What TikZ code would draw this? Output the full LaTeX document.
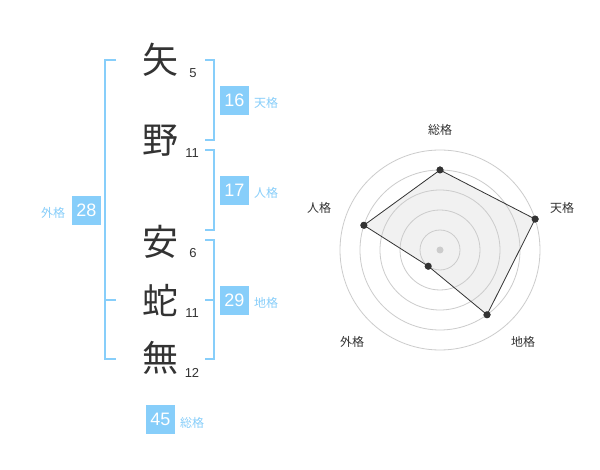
\documentclass[tikz,border=0pt]{standalone}
\usepackage{fontspec}
\setmainfont{Liberation Sans}
\newfontfamily\cjk{Noto Sans CJK JP}
\definecolor{sky}{RGB}{135,206,250}
\definecolor{ink}{RGB}{51,51,51}
\definecolor{ring}{RGB}{204,204,204}
\definecolor{area}{RGB}{238,238,238}
\begin{document}
\begin{tikzpicture}[x=1pt,y=-1pt,
  kanji/.style={inner sep=0pt,text=ink,font=\cjk\fontsize{36}{36}\selectfont},
  strokes/.style={inner sep=0pt,text=ink,font=\fontsize{13}{13}\selectfont},
  numbox/.style={fill=sky,text=white,minimum width=29pt,minimum height=29pt,inner sep=0pt,font=\fontsize{18}{18}\selectfont},
  kaku/.style={inner sep=0pt,text=sky,font=\cjk\fontsize{12}{12}\selectfont},
  bracket/.style={draw=sky,line width=2pt},
  axislabel/.style={inner sep=0pt,text=ink,font=\cjk\fontsize{12}{12}\selectfont},
  dot/.style={circle,fill=ink,inner sep=0pt,minimum size=7pt},
]
\useasboundingbox (0,0) rectangle (600,470);
\fill[white] (0,0) rectangle (600,470);
% kanji
\node[kanji] (k1) at (160,60) {矢};
\node[kanji] (k2) at (160,141) {野};
\node[kanji] (k3) at (160,242) {安};
\node[kanji] (k4) at (160,300) {蛇};
\node[kanji] (k5) at (160,358) {無};
% stroke counts
\node[strokes] (s1) at (193,73) {5};
\node[strokes] (s2) at (192,153) {11};
\node[strokes] (s3) at (193,253) {6};
\node[strokes] (s4) at (192,313) {11};
\node[strokes] (s5) at (192,373) {12};
% brackets
\draw[bracket] (116,60) -- (105,60) -- (105,359) -- (116,359);
\draw[bracket] (105,300) -- (116,300);
\draw[bracket] (205,60) -- (214,60) -- (214,140) -- (205,140);
\draw[bracket] (205,150) -- (214,150) -- (214,230) -- (205,230);
\draw[bracket] (205,240) -- (214,240) -- (214,359) -- (205,359);
\draw[bracket] (205,300) -- (214,300);
% number boxes
\node[numbox] (b1) at (234.5,100.5) {16};
\node[numbox] (b2) at (234.5,190.5) {17};
\node[numbox] (b3) at (234.5,300.5) {29};
\node[numbox] (b4) at (86.5,210.5) {28};
\node[numbox] (b5) at (160.5,419.5) {45};
\node[kaku] (l1) at (266,103) {天格};
\node[kaku] (l2) at (266,193) {人格};
\node[kaku] (l3) at (266,303) {地格};
\node[kaku] (l4) at (53,213) {外格};
\node[kaku] (l5) at (192,423) {総格};
% radar (y axis points down, so angles are mirrored)
\coordinate (c) at (440,250);
\node[dot] (p1) at ([shift={(-90:80)}]c) {};
\node[dot] (p2) at ([shift={(-18:100)}]c) {};
\node[dot] (p3) at ([shift={(54:80)}]c) {};
\node[dot] (p4) at ([shift={(126:20)}]c) {};
\node[dot] (p5) at ([shift={(-162:80)}]c) {};
\fill[area,fill opacity=0.8] (p1.center) -- (p2.center) -- (p3.center) -- (p4.center) -- (p5.center) -- cycle;
\foreach \r in {20,40,60,80,100} \draw[ring,line width=0.8pt] (c) circle (\r);
\draw[ink,line width=0.8pt] (p1.center) -- (p2.center) -- (p3.center) -- (p4.center) -- (p5.center) -- cycle;
\node[dot] at (p1) {};
\node[dot] at (p2) {};
\node[dot] at (p3) {};
\node[dot] at (p4) {};
\node[dot] at (p5) {};
\node[circle,fill=ring,inner sep=0pt,minimum size=7pt] (c0) at (c) {};
\node[axislabel] (a1) at (440,130) {総格};
\node[axislabel] (a2) at (562,208) {天格};
\node[axislabel] (a3) at (523,342) {地格};
\node[axislabel] (a4) at (352,342) {外格};
\node[axislabel] (a5) at (319,208) {人格};
\end{tikzpicture}
\end{document}
